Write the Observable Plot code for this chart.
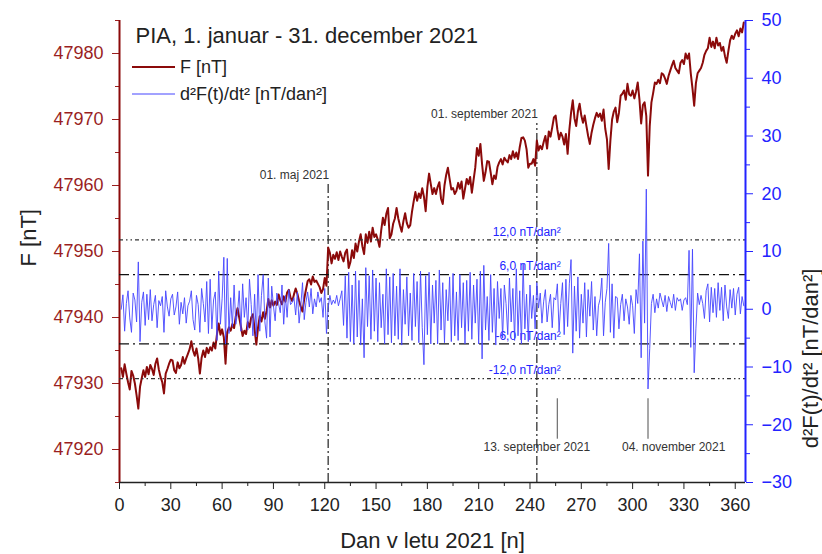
<!DOCTYPE html>
<html>
<head>
<meta charset="utf-8">
<script src="https://cdn.jsdelivr.net/npm/d3@7"></script>
<script src="https://cdn.jsdelivr.net/npm/@observablehq/plot@0.6"></script>
<style>
  html, body { margin: 0; padding: 0; background: #fff; }
  #wrap { position: relative; width: 822px; height: 554px; overflow: hidden; }
  #wrap > svg { position: absolute; left: 0; top: 0; }
</style>
</head>
<body>
<div id="wrap"></div>
<script>
// ---------- data ----------
const titleText = "PIA, 1. januar - 31. december 2021";
const seriesNames = ["F [nT]", "d²F(t)/dt² [nT/dan²]"];
const xTitle = "Dan v letu 2021 [n]";
const yLeftTitle = "F [nT]";
const yRightTitle = "d²F(t)/dt² [nT/dan²]";

const xTicks = [0, 30, 60, 90, 120, 150, 180, 210, 240, 270, 300, 330, 360];
const xMinor = [15, 45, 75, 105, 135, 165, 195, 225, 255, 285, 315, 345];
const fTicks = [47920, 47930, 47940, 47950, 47960, 47970, 47980];
const fMinor = [47915, 47925, 47935, 47945, 47955, 47965, 47975, 47985];
const dTicks = [-30, -20, -10, 0, 10, 20, 30, 40, 50];
const dMinor = [-25, -15, -5, 5, 15, 25, 35, 45];

// daily total field F (day 1..365)
const F = [
47932.3,47931.0,47932.9,47931.5,47930.2,47929.1,47931.9,47931.2,47930.0,47928.2,
47926.2,47929.5,47930.8,47932.0,47931.0,47932.5,47931.4,47932.8,47932.2,47931.3,
47933.0,47933.8,47932.1,47931.0,47930.2,47928.5,47931.5,47932.2,47933.0,47933.6,
47933.5,47932.0,47931.6,47933.2,47932.3,47932.8,47934.0,47933.0,47933.8,47934.5,
47935.2,47936.4,47935.0,47934.2,47935.3,47933.8,47931.5,47933.9,47935.0,47934.0,
47935.4,47934.6,47935.5,47935.0,47936.2,47935.3,47937.5,47939.1,47937.4,47938.2,
47937.0,47933.0,47937.8,47938.5,47938.0,47939.0,47938.4,47940.2,47941.4,47940.0,
47938.6,47937.2,47938.0,47937.5,47939.3,47938.5,47940.0,47940.5,47938.2,47935.9,
47938.5,47940.2,47939.4,47940.8,47939.8,47941.0,47942.8,47941.5,47942.6,47941.8,
47942.4,47941.9,47943.5,47942.6,47942.0,47943.2,47942.4,47943.8,47944.2,47943.0,
47942.5,47943.5,47944.4,47943.6,47942.5,47941.6,47940.9,47942.8,47944.2,47945.5,
47945.8,47945.0,47946.2,47945.4,47945.6,47945.1,47944.6,47943.7,47944.3,47946.0,
47944.8,47950.6,47949.8,47948.2,47949.5,47948.9,47949.9,47948.7,47950.0,47949.2,
47948.5,47949.8,47950.3,47947.5,47948.4,47950.2,47949.0,47951.2,47950.0,47951.5,
47952.6,47950.8,47949.6,47952.6,47951.3,47953.0,47951.5,47953.6,47952.2,47952.6,
47951.8,47950.7,47953.2,47955.1,47954.0,47955.7,47956.6,47952.0,47952.6,47954.2,
47955.0,47956.6,47955.0,47953.9,47953.0,47954.6,47955.8,47954.3,47953.6,47954.0,
47956.0,47957.6,47959.0,47957.7,47958.8,47958.1,47959.6,47958.3,47956.1,47959.8,
47961.8,47960.2,47958.7,47959.6,47958.7,47959.8,47960.5,47958.0,47957.2,47960.0,
47961.6,47962.7,47961.0,47959.4,47959.6,47958.7,47959.2,47960.4,47959.5,47960.6,
47958.0,47959.5,47961.0,47960.2,47961.3,47958.9,47960.8,47962.7,47965.7,47964.5,
47966.3,47963.2,47960.7,47962.0,47963.7,47963.6,47962.0,47960.2,47961.5,47961.0,
47962.8,47963.5,47964.0,47963.2,47964.2,47963.8,47963.5,47964.6,47964.0,47965.2,
47964.2,47965.0,47964.0,47965.8,47967.2,47967.3,47966.8,47965.5,47962.7,47963.3,
47963.3,47964.0,47963.0,47966.8,47965.3,47966.0,47965.5,47966.6,47967.5,47965.6,
47968.2,47967.4,47968.8,47970.3,47970.6,47968.5,47967.0,47968.0,47967.4,47966.2,
47967.8,47964.8,47968.4,47971.0,47972.9,47970.2,47969.0,47971.2,47972.4,47970.6,
47969.5,47970.6,47969.0,47967.5,47966.3,47968.0,47969.2,47970.2,47971.0,47970.4,
47970.9,47969.8,47971.5,47968.6,47967.0,47962.5,47966.8,47970.0,47971.2,47971.8,
47969.6,47971.0,47973.6,47973.9,47974.4,47973.0,47975.4,47973.8,47973.6,47974.4,
47973.2,47974.2,47975.6,47973.0,47969.4,47972.2,47972.6,47970.5,47961.5,47969.0,
47972.6,47974.0,47975.6,47975.4,47976.0,47975.5,47977.0,47976.8,47976.2,47975.4,
47976.6,47977.4,47978.2,47978.9,47977.8,47977.4,47977.0,47978.6,47979.0,47978.4,
47980.0,47979.2,47980.0,47977.0,47974.7,47972.1,47975.5,47977.0,47977.4,47977.8,
47978.6,47979.8,47980.4,47980.8,47982.4,47981.0,47981.8,47980.8,47982.4,47981.2,
47981.6,47980.4,47981.0,47979.6,47978.6,47980.4,47982.0,47982.7,47982.2,47983.0,
47983.5,47982.6,47983.8,47983.2,47984.7
];

// second time derivative d2F/dt2 (day 1..365)
const D2F = [
0.0,2.5,-3.8,1.0,3.2,-1.5,-4.0,2.8,1.6,-2.2,
8.2,-5.6,1.2,3.0,-2.8,2.6,-1.8,3.4,-2.0,0.8,
2.4,-3.2,1.5,0.6,2.2,-4.0,3.2,0.4,-1.2,1.8,
2.6,-1.0,0.4,3.0,-2.6,1.2,-0.8,2.0,-2.4,0.6,
1.4,3.2,-1.8,-3.6,2.4,0.8,-4.0,3.6,1.0,-2.2,
4.8,-4.2,5.2,-3.4,1.6,3.0,-5.4,6.6,-2.6,1.8,
9.0,-6.0,8.8,-4.2,2.0,-3.0,4.2,-2.6,-0.6,3.2,
-3.8,4.4,-1.4,2.0,-3.6,5.2,0.8,-4.6,2.6,-4.8,
6.0,-3.8,2.4,6.0,-2.2,-5.0,5.4,-4.8,4.0,0.6,
-2.0,2.8,1.0,-0.6,4.2,-2.6,2.4,-1.4,3.4,0.8,
1.2,2.0,-1.0,3.0,-2.4,0.6,4.6,-1.8,1.2,3.0,
0.4,3.6,-0.8,1.8,0.4,3.0,1.2,2.0,-1.4,3.6,
-4.2,0.2,2.4,0.8,1.6,1.0,2.4,0.6,1.8,3.2,
-2.8,5.8,-5.0,6.4,-5.6,4.2,-6.0,6.6,-4.8,5.0,
-6.2,1.8,-8.4,7.2,-3.0,5.8,-5.2,6.8,-3.8,5.4,
-5.6,4.6,-3.2,2.6,-6.0,7.0,-4.4,5.6,-5.8,6.2,
-4.6,4.0,-5.2,7.0,-6.2,3.4,-2.6,5.6,-4.6,2.8,
-5.4,6.2,-3.0,4.8,-5.8,6.6,-3.2,-9.6,5.8,-4.4,
6.4,-6.0,4.2,-2.4,5.0,-6.0,6.8,-3.6,4.6,-5.8,
3.4,-2.0,5.6,-5.6,6.2,-4.6,3.0,-5.4,6.0,-3.2,
4.6,-6.0,5.0,-3.8,6.4,-5.2,4.2,-2.4,5.2,-6.0,
6.6,-8.6,7.6,-3.6,2.2,-5.4,6.0,-4.0,3.6,-6.2,
4.8,-1.6,3.6,-5.0,4.2,1.0,-4.4,5.4,-2.2,3.6,
-5.4,7.0,-4.6,3.2,-6.0,8.0,-3.4,2.6,-5.6,4.2,
-1.6,2.4,-3.4,4.6,0.2,2.8,-2.4,1.4,3.4,-2.2,
0.8,2.6,-3.2,2.0,1.6,4.4,-3.8,1.0,4.6,-4.4,
5.2,-3.0,4.4,8.6,-7.6,4.0,-3.8,5.6,-5.0,2.6,
-2.4,4.6,-4.8,3.4,-1.2,4.8,-3.6,2.2,-4.6,0.6,
1.8,5.4,-4.6,1.2,3.6,11.4,-4.0,4.4,-5.0,2.2,
2.0,-3.4,0.8,2.6,-2.0,1.8,0.4,-2.6,2.4,0.6,
-4.2,3.4,1.0,9.6,-8.4,11.8,-2.4,20.8,-13.8,-6.8,
1.0,2.6,-0.6,1.8,0.2,2.8,1.6,0.4,2.4,-0.4,
2.2,1.2,0.2,2.6,-0.2,2.0,1.4,1.8,-0.2,1.6,
2.0,0.8,10.2,-6.6,10.4,-11.0,-3.4,2.8,0.8,2.4,
1.0,-1.6,3.2,4.4,-2.2,3.8,-0.6,3.6,-1.4,4.6,
-0.2,3.8,-2.0,4.2,0.4,-1.6,3.4,0.2,3.6,-1.0,
2.6,3.8,-0.8,2.2,0.6
];

// thresholds for d2F
const thrInner = [6, -6];
const thrOuter = [12, -12];
const thrValues = [12, 6, -6, -12];
const thrLabels = ["12,0 nT/dan²", "6,0 nT/dan²", "-6,0 nT/dan²", "-12,0 nT/dan²"];

// date markers (vertical dash-dot lines), F units for their top
const markerDays = [122, 244];
const markerTopF = [47960.2, 47969.4];
const markerLabels = ["01. maj 2021", "01. september 2021"];

// event markers (short grey lines), d2F units
const eventDays = [256, 309];
const eventLabelDays = [244, 324];
const eventLabels = ["13. september 2021", "04. november 2021"];
const eventTop = -15.5, eventBottom = -22.5, eventLabelY = -23.8;

// ---------- styles ----------
const RED = "#8b0a0a";
const RED_TXT = "#9a1f1f";
const BLUE = "#2323ff";
const BLUE_LINE = "#4646ff";
const FONT = "'Liberation Sans', Arial, Helvetica, sans-serif";
const W = 822, H = 554, ML = 119, MR = 77, MT = 20, MB = 72;

const fData = F.map((v, i) => ({day: i + 1, v}));
const dData = D2F.map((v, i) => ({day: i + 1, v}));
const markers = markerDays.map((d, i) => ({day: d, top: markerTopF[i], label: markerLabels[i]}));
const events = eventDays.map((d, i) => ({day: d, lday: eventLabelDays[i], label: eventLabels[i]}));
const thr = thrValues.map((v, i) => ({v, label: thrLabels[i]}));

const common = {
  width: W, height: H,
  marginLeft: ML, marginRight: MR, marginTop: MT, marginBottom: MB,
  x: {domain: [0, 366]},
  style: {background: "transparent", fontFamily: FONT, fontSize: "18px", overflow: "visible"}
};

// ---------- plot A: F (left axis) ----------
const plotA = Plot.plot({
  ...common,
  y: {domain: [47915, 47985]},
  marks: [
    Plot.ruleX(markers, {x: "day", y1: 47915, y2: "top", stroke: "#333", strokeWidth: 1.3, strokeDasharray: "9,3,2,3"}),
    Plot.text(markers, {x: "day", y: "top", text: "label", textAnchor: "end", dy: -9, dx: 1, fontSize: 12, fill: "#333"}),
    Plot.line(fData, {x: "day", y: "v", stroke: RED, strokeWidth: 2}),
    Plot.axisY(fTicks, {anchor: "left", tickSize: 7, tickPadding: 9, tickFormat: "d", color: RED_TXT, fontSize: 18, label: null}),
    Plot.axisY(fMinor, {anchor: "left", tickSize: 4, tickFormat: () => "", color: RED_TXT, label: null}),
    Plot.axisX(xTicks, {anchor: "bottom", tickSize: 7, tickPadding: 9, tickFormat: "d", color: "#222", fontSize: 18, label: null}),
    Plot.axisX(xMinor, {anchor: "bottom", tickSize: 4, tickFormat: () => "", color: "#222", label: null}),
    Plot.ruleX([0], {stroke: RED, strokeWidth: 2}),
    Plot.ruleY([47915], {stroke: "#222", strokeWidth: 1.5}),
    Plot.text([titleText], {frameAnchor: "top-left", dx: 16, dy: 15, lineAnchor: "middle", textAnchor: "start", fontSize: 22, fill: "#222"}),
    Plot.text([yLeftTitle], {frameAnchor: "left", dx: -91, dy: 15, rotate: -90, fontSize: 22, fill: "#222"}),
    Plot.text([xTitle], {frameAnchor: "bottom", dy: 65, fontSize: 22, fill: "#222"})
  ]
});

// ---------- plot B: d2F (right axis) ----------
const plotB = Plot.plot({
  ...common,
  y: {domain: [-30, 50]},
  marks: [
    Plot.ruleY(thrOuter, {stroke: "#333", strokeWidth: 1.2, strokeDasharray: "4,3,1.5,3,1.5,3"}),
    Plot.ruleY(thrInner, {stroke: "#111", strokeWidth: 1.4, strokeDasharray: "10,4,2,4"}),
    Plot.text(thr, {x: 258, y: "v", text: "label", textAnchor: "end", dy: -8, fontSize: 12, fill: BLUE}),
    Plot.line(dData, {x: "day", y: "v", stroke: BLUE_LINE, strokeWidth: 1, strokeOpacity: 0.9}),
    Plot.ruleX(events, {x: "day", y1: eventTop, y2: eventBottom, stroke: "#777", strokeWidth: 1.3}),
    Plot.text(events, {x: "lday", y: eventLabelY, text: "label", fontSize: 12, fill: "#333"}),
    Plot.axisY(dTicks, {anchor: "right", tickSize: 7, tickPadding: 9, tickFormat: "d", color: BLUE, fontSize: 18, label: null}),
    Plot.axisY(dMinor, {anchor: "right", tickSize: 4, tickFormat: () => "", color: BLUE, label: null}),
    Plot.ruleX([366], {stroke: BLUE, strokeWidth: 2}),
    Plot.text([yRightTitle], {frameAnchor: "right", dx: 65, dy: 17, rotate: -90, fontSize: 22, fill: "#222"})
  ],
  x: {domain: [0, 366], axis: null}
});

const wrap = document.getElementById("wrap");
wrap.appendChild(plotA);
wrap.appendChild(plotB);

// ---------- legend ----------
const leg = d3.select(wrap).append("svg")
  .attr("width", W).attr("height", H)
  .style("pointer-events", "none");
const legItems = [
  {name: seriesNames[0], color: RED, w: 2, y: 67},
  {name: seriesNames[1], color: BLUE_LINE, w: 1.2, y: 94}
];
legItems.forEach(it => {
  leg.append("line").attr("x1", 132).attr("x2", 175).attr("y1", it.y).attr("y2", it.y)
    .attr("stroke", it.color).attr("stroke-width", it.w);
  leg.append("text").attr("x", 180).attr("y", it.y).attr("dy", "0.35em")
    .attr("font-family", FONT).attr("font-size", 18).attr("fill", "#222").text(it.name);
});
</script>
</body>
</html>
